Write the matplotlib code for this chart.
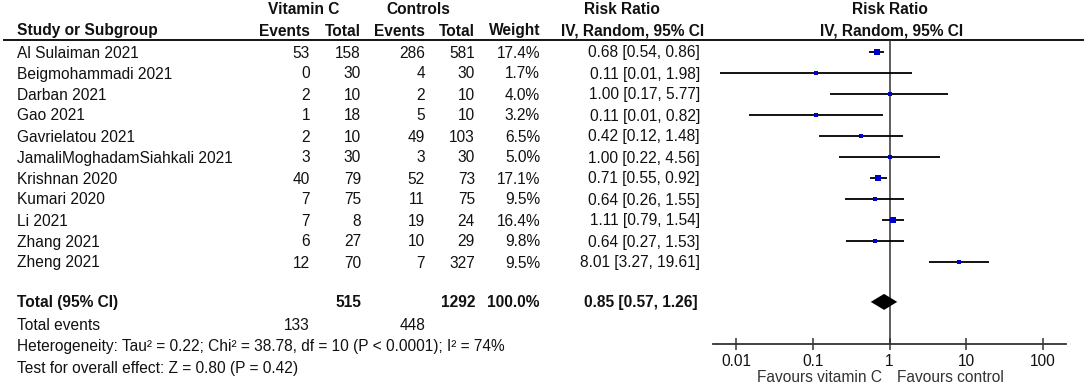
import matplotlib
matplotlib.use('Agg')
import matplotlib.pyplot as plt
import numpy as np

plt.rcParams['font.family'] = ['Liberation Sans', 'DejaVu Sans']

studies = ["Al Sulaiman 2021", "Beigmohammadi 2021", "Darban 2021", "Gao 2021",
           "Gavrielatou 2021", "JamaliMoghadamSiahkali 2021", "Krishnan 2020",
           "Kumari 2020", "Li 2021", "Zhang 2021", "Zheng 2021"]
vitc_events = [53, 0, 2, 1, 2, 3, 40, 7, 7, 6, 12]
vitc_total = [158, 30, 10, 18, 10, 30, 79, 75, 8, 27, 70]
ctrl_events = [286, 4, 2, 5, 49, 3, 52, 11, 19, 10, 7]
ctrl_total = [581, 30, 10, 10, 103, 30, 73, 75, 24, 29, 327]
weights = [17.4, 1.7, 4.0, 3.2, 6.5, 5.0, 17.1, 9.5, 16.4, 9.8, 9.5]
rr = [0.68, 0.11, 1.00, 0.11, 0.42, 1.00, 0.71, 0.64, 1.11, 0.64, 8.01]
ci_lo = [0.54, 0.0061, 0.17, 0.0147, 0.12, 0.22, 0.55, 0.26, 0.79, 0.27, 3.27]
ci_hi = [0.86, 1.98, 5.77, 0.82, 1.48, 4.56, 0.92, 1.55, 1.54, 1.53, 19.61]

total_vitc, total_ctrl = 515, 1292
total_weight = 100.0
events_vitc, events_ctrl = 133, 448
pooled = (0.85, 0.57, 1.26)
hetero = "Heterogeneity: Tau² = 0.22; Chi² = 38.78, df = 10 (P < 0.0001); I² = 74%"
overall = "Test for overall effect: Z = 0.80 (P = 0.42)"
tick_vals = [0.01, 0.1, 1, 10, 100]
tick_labels = ["0.01", "0.1", "1", "10", "100"]

W, H = 1084, 386
FS = 11.2
row0, rowh = 52, 21
total_idx = 11.9
dark = '#111111'

fig = plt.figure(figsize=(W / 100, H / 100), dpi=100)

# table part, drawn in pixel coordinates
ax0 = fig.add_axes([0, 0, 1, 1])
ax0.set_xlim(0, W)
ax0.set_ylim(H, 0)
ax0.axis('off')


def txt(x, y, s, ha='right', bold=False, color=dark):
    ax0.text(x, y + 5.5, s, ha=ha, va='baseline', fontsize=FS,
             fontweight='bold' if bold else 'normal', color=color)


# headers
txt(304, 9, "Vitamin C", ha='center', bold=True)
txt(418, 9, "Controls", ha='center', bold=True)
txt(622, 9, "Risk Ratio", ha='center', bold=True)
txt(890, 9, "Risk Ratio", ha='center', bold=True)
txt(17, 30, "Study or Subgroup", ha='left', bold=True)
txt(310, 30, "Events", bold=True)
txt(361, 30, "Total", bold=True)
txt(425, 30, "Events", bold=True)
txt(475, 30, "Total", bold=True)
txt(540, 30, "Weight", bold=True)
txt(633, 30, "IV, Random, 95% CI", ha='center', bold=True)
txt(892, 30, "IV, Random, 95% CI", ha='center', bold=True)
ax0.plot([3, W], [40, 40], color='black', lw=1.3, solid_capstyle='butt')

for i, name in enumerate(studies):
    y = row0 + rowh * i
    txt(17, y, name, ha='left')
    txt(310, y, str(vitc_events[i]))
    txt(361, y, str(vitc_total[i]))
    txt(425, y, str(ctrl_events[i]))
    txt(475, y, str(ctrl_total[i]))
    txt(540, y, f"{weights[i]:.1f}%")
    txt(700, y, f"{rr[i]:.2f} [{ci_lo[i]:.2f}, {ci_hi[i]:.2f}]")

yt = row0 + rowh * total_idx
txt(17, yt, "Total (95% CI)", ha='left', bold=True)
txt(361, yt, str(total_vitc), bold=True)
txt(475, yt, str(total_ctrl), bold=True)
txt(540, yt, f"{total_weight:.1f}%", bold=True)
txt(698, yt, f"{pooled[0]:.2f} [{pooled[1]:.2f}, {pooled[2]:.2f}]", bold=True)
txt(17, 325, "Total events", ha='left')
txt(310, 325, str(events_vitc))
txt(425, 325, str(events_ctrl))
txt(17, 346, hetero, ha='left')
txt(17, 367, overall, ha='left')
txt(882, 377, "Favours vitamin C", color='#333333')
txt(897, 377, "Favours control", ha='left', color='#333333')

# forest plot
x0, x1 = 713, 1066
ytop, ybot = 40, 344
ax = fig.add_axes([x0 / W, (H - ybot) / H, (x1 - x0) / W, (ybot - ytop) / H])
ax.patch.set_visible(False)
ax.set_xscale('log')
ax.set_xlim(10 ** -2.3, 10 ** 2.3)
ax.set_ylim((ybot - row0) / rowh, (ytop - row0) / rowh)

ax.axvline(1, color='#333333', lw=1.1, zorder=1)
idx = np.arange(len(studies))
ax.hlines(idx, ci_lo, ci_hi, color='black', lw=1.3, zorder=2)
for i in idx:
    side = 3 + 0.2 * weights[i]
    ax.plot(rr[i], i, marker='s', ms=side * 0.72, color='#0000cc',
            mec='#0000cc', mew=0, zorder=3)

est, lo, hi = pooled
dh = 8 / rowh
ax.fill([lo, est, hi, est], [total_idx, total_idx - dh, total_idx, total_idx + dh],
        color='black', lw=0, zorder=3)

for s in ['top', 'right', 'left']:
    ax.spines[s].set_visible(False)
ax.spines['bottom'].set_color('#333333')
ax.spines['bottom'].set_linewidth(1.3)
ax.set_yticks([])
ax.set_xticks(tick_vals)
ax.set_xticklabels(tick_labels)
ax.minorticks_off()
ax.tick_params(axis='x', direction='inout', length=8, width=1.1, color='#333333',
               labelsize=FS, labelcolor=dark, pad=3)

fig.savefig('out.png', dpi=100)
